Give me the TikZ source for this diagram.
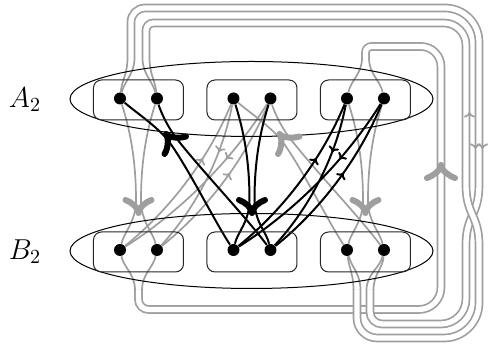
\documentclass[tikz,border=0pt]{standalone}
\usetikzlibrary{arrows.meta,decorations.markings,shapes.geometric}
\definecolor{grayc}{RGB}{158,158,158}
\pgfdeclarelayer{wires}
\pgfdeclarelayer{frames}
\pgfsetlayers{wires,frames,main}
\begin{document}
\begin{tikzpicture}[x=0.5pt,y=-0.5pt,
  dot/.style={circle,fill=black,inner sep=0pt,minimum size=6pt},
  box/.style={draw=black!85,line width=0.5pt,rounded corners=4pt,minimum width=45pt,minimum height=20pt,inner sep=0pt},
  ell/.style={draw=black,line width=0.5pt,ellipse,minimum width=181.5pt,minimum height=37.5pt,inner sep=0pt},
  gw/.style={grayc,line width=0.85pt},
  bw/.style={black,line width=1pt},
  dbl/.style={grayc,line width=0.85pt,double=white,double distance=2.65pt},
  big/.style={line width=3pt,line cap=round,line join=round},
  smalltip/.style={-{To[length=2.8pt,width=5.5pt]}},
  tipup/.style={postaction={decorate,decoration={markings,mark=at position #1 with {\arrow{To[length=2.8pt,width=5.5pt]}}}}},
  tipdown/.style={postaction={decorate,decoration={markings,mark=at position #1 with {\arrowreversed{To[length=2.8pt,width=5.5pt]}}}}},
  lbl/.style={font=\Large}
]
\useasboundingbox (0,0) rectangle (489,346);

% dots
\node[dot] (a1) at (120,98.5) {};
\node[dot] (a2) at (157,98.5) {};
\node[dot] (a3) at (233.5,98.5) {};
\node[dot] (a4) at (270.5,98.5) {};
\node[dot] (a5) at (347,98.5) {};
\node[dot] (a6) at (384,98.5) {};
\node[dot] (b1) at (120,250) {};
\node[dot] (b2) at (157,250) {};
\node[dot] (b3) at (233.5,250) {};
\node[dot] (b4) at (270.5,250) {};
\node[dot] (b5) at (347,250) {};
\node[dot] (b6) at (384,250) {};

% labels
\node[lbl] (LA) at (25,99.5) {$A_2$};
\node[lbl] (LB) at (25,251.5) {$B_2$};

% junction coordinates (rail ends of the double lines)
\coordinate (jA1p) at (131,58);   \coordinate (rA1p1) at (127.5,58); \coordinate (rA1p2) at (134.5,58);
\coordinate (jA1q) at (146,58);   \coordinate (rA1q1) at (142.5,58); \coordinate (rA1q2) at (149.5,58);
\coordinate (jA3) at (365.5,58);  \coordinate (rA31) at (362,58);    \coordinate (rA32) at (369,58);
\coordinate (jB1) at (138.5,290); \coordinate (rB11) at (135,290);   \coordinate (rB12) at (142,290);
\coordinate (jB3q) at (357,290);  \coordinate (rB3q1) at (353.5,290);\coordinate (rB3q2) at (360.5,290);
\coordinate (jB3p) at (370,290);  \coordinate (rB3p1) at (366.5,290);\coordinate (rB3p2) at (373.5,290);

\begin{pgfonlayer}{frames}
\node[ell] (EA) at (251.5,99) {};
\node[ell] (EB) at (251.5,251) {};
\node[box] (BA1) at (138.5,100) {};
\node[box] (BA2) at (252,100) {};
\node[box] (BA3) at (365.5,100) {};
\node[box] (BB1) at (138.5,252) {};
\node[box] (BB2) at (252,252) {};
\node[box] (BB3) at (365.5,252) {};
\end{pgfonlayer}

\begin{pgfonlayer}{wires}
% ---- long double loops ----
\draw[dbl] (jB1) -- (138.5,299.5) .. controls (138.5,305) and (143,309.5) .. (148.5,309.5)
  -- (419,309.5) .. controls (431.1,309.5) and (441,299.6) .. (441,287.5)
  -- (441,66.5) .. controls (441,55.5) and (432,46.5) .. (421,46.5)
  -- (371.5,46.5) .. controls (368.2,46.5) and (365.5,49.2) .. (365.5,52.5) -- (jA3);
\draw[dbl] (jA1p) -- (131,22) .. controls (131,14.3) and (137.3,8) .. (145,8)
  -- (445,8) .. controls (463.8,8) and (479,23.2) .. (479,42)
  -- (479,185) .. controls (479,215) and (466,215) .. (466,245)
  -- (466,299) .. controls (466,312.8) and (454.8,324) .. (441,324)
  -- (382,324) .. controls (375.4,324) and (370,318.6) .. (370,312) -- (jB3p);
\draw[dbl] (jA1q) -- (146,30) .. controls (146,26.9) and (149.1,23) .. (153,23)
  -- (444,23) .. controls (456.1,23) and (466,32.9) .. (466,45)
  -- (466,185) .. controls (466,215) and (479,215) .. (479,245)
  -- (479,303) .. controls (479,322.3) and (463.3,338) .. (444,338)
  -- (377,338) .. controls (366,338) and (357,329) .. (357,318) -- (jB3q);

% ---- stubs from dots into the double lines ----
\draw[gw] (a1) .. controls (122,80) and (127.5,74) .. (rA1p1);
\draw[gw] (a1) .. controls (125,80) and (134.5,74) .. (rA1p2);
\draw[gw] (a2) .. controls (152,80) and (142.5,74) .. (rA1q1);
\draw[gw] (a2) .. controls (155,80) and (149.5,74) .. (rA1q2);
\draw[gw] (a5) .. controls (351,80) and (362,74) .. (rA31);
\draw[gw] (a6) .. controls (380,80) and (369,74) .. (rA32);
\draw[gw] (b1) .. controls (124,268) and (135,274) .. (rB11);
\draw[gw] (b2) .. controls (153,268) and (142,274) .. (rB12);
\draw[gw] (b5) .. controls (349,268) and (353.5,274) .. (rB3q1);
\draw[gw] (b5) .. controls (352,268) and (360.5,274) .. (rB3q2);
\draw[gw] (b6) .. controls (380,268) and (366.5,274) .. (rB3p1);
\draw[gw] (b6) .. controls (383,268) and (373.5,274) .. (rB3p2);

% ---- gray vertical bundles ----
\draw[gw] (a1) .. controls (130,130) and (136,160) .. (136,200) .. controls (136,222) and (124,232) .. (b1);
\draw[gw] (a2) .. controls (147,130) and (141,160) .. (141,200) .. controls (141,222) and (153,232) .. (b2);
\draw[gw] (a5) .. controls (357,130) and (363,160) .. (363,200) .. controls (363,222) and (351,232) .. (b5);
\draw[gw] (a6) .. controls (374,130) and (368,160) .. (368,200) .. controls (368,222) and (380,232) .. (b6);

% ---- gray diagonal bundle B3 -> A2 ----
\draw[gw] (a3) .. controls (247.5,111) and (271.5,127) .. (282.3,141.4) .. controls (300.3,165.4) and (328.5,222) .. (b5);
\draw[gw] (a4) .. controls (273.5,110) and (280.3,125.4) .. (288.7,136.6) .. controls (309.7,164.6) and (360.5,218) .. (b6);

% ---- gray small-arrow wires B1 -> A2 ----
\draw[gw,tipup=0.66]   (b1) .. controls (170.6,209.1) and (208.5,158.6) .. (a3);
\draw[gw,tipdown=0.69] (b2) .. controls (196.8,206.7) and (222.3,156.2) .. (a3);
\draw[gw,tipdown=0.66] (b1) .. controls (181.6,210.8) and (231.7,160.3) .. (a4);
\draw[gw,tipup=0.56]   (b2) .. controls (207.6,209.1) and (245.5,158.6) .. (a4);

% ---- black vertical bundle ----
\draw[bw] (a3) .. controls (243.5,130) and (249.5,160) .. (249.5,200) .. controls (249.5,222) and (237.5,232) .. (b3);
\draw[bw] (a4) .. controls (260.5,130) and (254.5,160) .. (254.5,200) .. controls (254.5,222) and (266.5,232) .. (b4);

% ---- black diagonal bundle B2 -> A1 ----
\draw[bw] (a1) .. controls (134,111) and (158,127) .. (168.8,141.4) .. controls (186.8,165.4) and (215,222) .. (b3);
\draw[bw] (a2) .. controls (160,110) and (166.8,125.4) .. (175.2,136.6) .. controls (196.2,164.6) and (247,218) .. (b4);

% ---- black small-arrow wires B2 -> A3 ----
\draw[bw,tipup=0.66]   (b3) .. controls (284.1,209.1) and (322,158.6) .. (a5);
\draw[bw,tipdown=0.69] (b4) .. controls (310.3,206.7) and (335.8,156.2) .. (a5);
\draw[bw,tipdown=0.66] (b3) .. controls (295.1,210.8) and (345.2,160.3) .. (a6);
\draw[bw,tipup=0.56]   (b4) .. controls (321.1,209.1) and (359,158.6) .. (a6);
\end{pgfonlayer}

% ---- big arrowheads ----
\draw[big,grayc] (125.5,200) .. controls (131.5,202) and (138.5,208) .. (138.5,213) .. controls (138.5,208) and (145.5,202) .. (151.5,200);
\draw[big,black] (239,200) .. controls (245,202) and (252,208) .. (252,213) .. controls (252,208) and (259,202) .. (265,200);
\draw[big,grayc] (352.5,200) .. controls (358.5,202) and (365.5,208) .. (365.5,213) .. controls (365.5,208) and (372.5,202) .. (378.5,200);
\draw[big,black] (186,136.5) .. controls (180,138.5) and (169,138) .. (166,134) .. controls (169,138) and (168.1,148.8) .. (164.5,154);
\draw[big,grayc] (299.5,136.5) .. controls (293.5,138.5) and (282.5,138) .. (279.5,134) .. controls (282.5,138) and (281.6,148.8) .. (278,154);
\draw[big,grayc] (427,178) .. controls (433,176) and (441,170) .. (441,165) .. controls (441,170) and (449,176) .. (455,178);

% ---- small arrowheads on the outer loops ----
\draw[gw,smalltip] (469.5,118) -- (469.5,112);
\draw[gw,smalltip] (475.5,143) -- (475.5,149);
\draw[gw,smalltip] (482.5,143) -- (482.5,149);
\end{tikzpicture}
\end{document}
